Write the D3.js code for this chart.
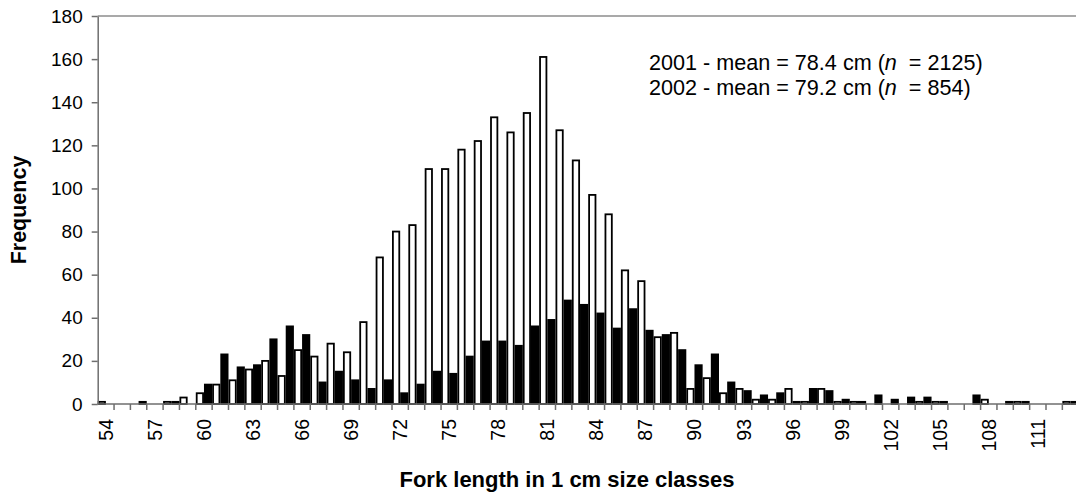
<!DOCTYPE html>
<html>
<head>
<meta charset="utf-8">
<title>Fork length frequency</title>
<script src="https://cdn.jsdelivr.net/npm/d3@7"></script>
<style>
body { margin: 0; background: #fff; }
text { font-family: "Liberation Sans", Arial, sans-serif; fill: #000; }
.axis path, .axis line { stroke: #6e6e6e; }
</style>
</head>
<body>
<script>
// fork length classes (cm)
var lengths = d3.range(54, 114);

// counts per class, 54 .. 113
var counts2001 = [1,0,0,0,1,3,5,9,11,16,20,13,25,22,28,24,38,68,80,83,
                  109,109,118,122,133,126,135,161,127,113,97,88,62,57,31,33,7,12,5,7,
                  2,2,7,1,7,1,1,0,0,0,1,1,0,0,2,0,1,0,0,1];
var counts2002 = [0,0,1,0,1,0,9,23,17,18,30,36,32,10,15,11,7,11,5,9,
                  15,14,22,29,29,27,36,39,48,46,42,35,44,34,32,25,18,23,10,6,
                  4,5,1,7,6,2,1,4,2,3,3,1,0,4,0,1,1,0,0,1];

var seriesNames = ["2001", "2002"];
var yTicks = [0,20,40,60,80,100,120,140,160,180];
var notes = [
  {year: "2001", mean: "78.4", n: "2125"},
  {year: "2002", mean: "79.2", n: "854"}
];

var W = 1076, H = 495;
var plotLeft = 97.7, plotTop = 16, plotBottom = 404, step = 16.35;

var svg = d3.select("body").append("svg")
  .attr("width", W).attr("height", H)
  .style("display", "block");

var x = d3.scaleBand().domain(lengths)
  .range([plotLeft, plotLeft + lengths.length * step])
  .padding(0);
var xs = d3.scaleBand().domain(seriesNames).range([0, x.bandwidth()]).padding(0);
var y = d3.scaleLinear().domain([0, 180]).range([plotBottom, plotTop]);

// top border of plot area
svg.append("line")
  .attr("x1", plotLeft).attr("x2", W)
  .attr("y1", y(180)).attr("y2", y(180))
  .attr("stroke", "#8c8c8c").attr("stroke-width", 1.5);

// bars
var rows = [];
lengths.forEach(function(l, i) {
  rows.push({len: l, s: "2001", v: counts2001[i]});
  rows.push({len: l, s: "2002", v: counts2002[i]});
});

svg.append("g").selectAll("rect")
  .data(rows.filter(function(d){ return d.v > 0; }))
  .enter().append("rect")
  .attr("x", function(d){ return x(d.len) + xs(d.s) + 0.9; })
  .attr("width", xs.bandwidth() - 1.8)
  .attr("y", function(d){ return y(d.v); })
  .attr("height", function(d){ return y(0) - y(d.v); })
  .attr("fill", function(d){ return d.s == "2001" ? "#fff" : "#000"; })
  .attr("stroke", "#000")
  .attr("stroke-width", 1.8);

// y axis
var yAxis = svg.append("g").attr("class", "axis")
  .attr("transform", "translate(" + plotLeft + ",0)")
  .call(d3.axisLeft(y).tickValues(yTicks).tickSize(6).tickSizeOuter(0).tickPadding(9));
yAxis.selectAll("path, line").attr("stroke-width", 1.5);
yAxis.selectAll("text").style("font-size", "19px");

// x axis: ticks on class boundaries, labels every 3rd class
var xAxis = svg.append("g").attr("class", "axis")
  .attr("transform", "translate(0," + plotBottom + ")");
xAxis.append("line")
  .attr("x1", plotLeft).attr("x2", W)
  .attr("stroke-width", 1.5);
xAxis.selectAll(".tk")
  .data(lengths.slice(1))
  .enter().append("line")
  .attr("class", "tk")
  .attr("x1", function(d){ return x(d); })
  .attr("x2", function(d){ return x(d); })
  .attr("y1", 0).attr("y2", 6)
  .attr("stroke-width", 1.5);
xAxis.selectAll("text")
  .data(lengths.filter(function(d){ return (d - 54) % 3 == 0; }))
  .enter().append("text")
  .attr("transform", function(d){
    return "translate(" + (x(d) + x.bandwidth() / 2 + 7) + ",15) rotate(-90)";
  })
  .attr("text-anchor", "end")
  .style("font-size", "19.5px")
  .text(function(d){ return d; });

// axis titles
svg.append("text")
  .attr("transform", "translate(26," + ((plotTop + plotBottom) / 2) + ") rotate(-90)")
  .attr("text-anchor", "middle")
  .style("font-size", "21.5px").style("font-weight", "bold")
  .text("Frequency");

svg.append("text")
  .attr("x", 567).attr("y", 487)
  .attr("text-anchor", "middle")
  .style("font-size", "22px").style("font-weight", "bold")
  .text("Fork length in 1 cm size classes");

// annotation
var note = svg.append("g").selectAll("text")
  .data(notes).enter().append("text")
  .attr("x", 649)
  .attr("y", function(d, i){ return 70 + i * 25; })
  .style("font-size", "21.6px");
note.append("tspan").text(function(d){ return d.year + " - mean = " + d.mean + " cm ("; });
note.append("tspan").style("font-style", "italic").text("n");
note.append("tspan").text(function(d){ return " \u00a0= " + d.n + ")"; });
</script>
</body>
</html>
